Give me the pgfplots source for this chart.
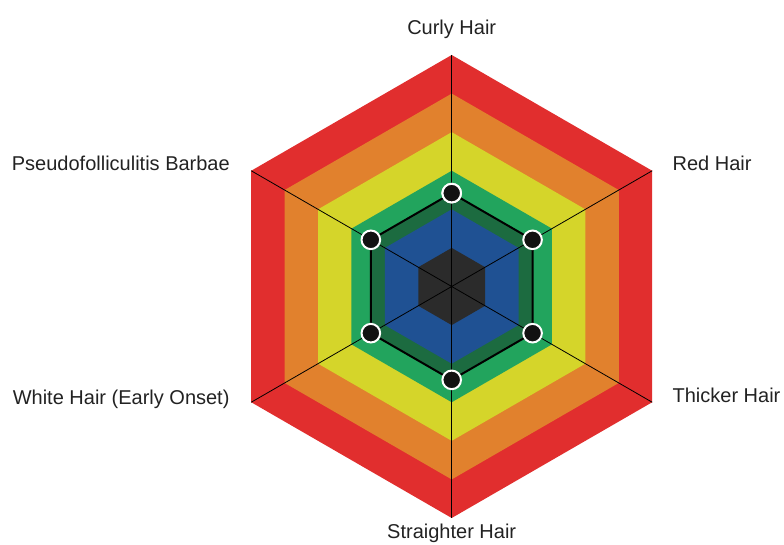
\documentclass[border=0pt]{standalone}
\usepackage{fontspec}
\setmainfont{Liberation Sans}
\usepackage{pgfplots}
\usepackage{pgfplotstable}
\pgfplotsset{compat=1.18}

\definecolor{band-red}{HTML}{E12E2E}
\definecolor{band-orange}{HTML}{E1812D}
\definecolor{band-yellow}{HTML}{D5D52A}
\definecolor{band-green}{HTML}{22A45D}
\definecolor{band-dkgreen}{HTML}{1C6B40}
\definecolor{band-blue}{HTML}{1F5193}
\definecolor{band-core}{HTML}{2B2B2B}
\definecolor{label-grey}{HTML}{222222}

% one score per trait, angle in degrees (first point repeated to close)
\pgfplotstableread{
angle value
90    2.42
30    2.42
-30   2.42
-90   2.42
-150  2.42
150   2.42
90    2.42
}\traitscores

\begin{document}
\begin{tikzpicture}
\path[use as bounding box] (-220.2pt,-26pt) rectangle (563.8pt,518pt);
\begin{axis}[
    x=38.583pt, y=38.583pt,
    xmin=-6, xmax=6, ymin=-6, ymax=6,
    hide axis, clip=false,
    at={(0pt,0pt)}, anchor=south west,
    data cs=polar,
]
    % background bands
    \addplot[fill=band-red, draw=none] coordinates {(90,6) (30,6) (-30,6) (-90,6) (-150,6) (150,6)} -- cycle;
    \addplot[fill=band-orange, draw=none] coordinates {(90,5) (30,5) (-30,5) (-90,5) (-150,5) (150,5)} -- cycle;
    \addplot[fill=band-yellow, draw=none] coordinates {(90,4) (30,4) (-30,4) (-90,4) (-150,4) (150,4)} -- cycle;
    \addplot[fill=band-green, draw=none] coordinates {(90,3) (30,3) (-30,3) (-90,3) (-150,3) (150,3)} -- cycle;
    \addplot[fill=band-dkgreen, draw=none] table[x=angle, y=value] {\traitscores} -- cycle;
    \addplot[fill=band-blue, draw=none] coordinates {(90,2) (30,2) (-30,2) (-90,2) (-150,2) (150,2)} -- cycle;
    \addplot[fill=band-core, draw=none] coordinates {(90,1) (30,1) (-30,1) (-90,1) (-150,1) (150,1)} -- cycle;

    % spokes
    \addplot[black, line width=0.8pt] coordinates {(90,6) (270,6)};
    \addplot[black, line width=0.8pt] coordinates {(30,6) (210,6)};
    \addplot[black, line width=0.8pt] coordinates {(-30,6) (150,6)};

    % scores
    \addplot[black, line width=2pt, mark=*, mark size=9.3pt,
        mark options={fill=black!93, draw=white, line width=2pt}]
        table[x=angle, y=value] {\traitscores};
\end{axis}

\begin{scope}[shift={(231.5pt,231.5pt)}, every node/.style={inner sep=0pt, text=label-grey, font=\fontsize{20}{24}\selectfont}]
    \node[anchor=base] at (0pt,251.5pt) {Curly Hair};
    \node[anchor=base west] at (220.7pt,115.8pt) {Red Hair};
    \node[anchor=base west] at (220.7pt,-116.2pt) {Thicker Hair};
    \node[anchor=base east] at (-221.7pt,115.8pt) {Pseudofolliculitis Barbae};
    \node[anchor=base east] at (-222pt,-118pt) {White Hair (Early Onset)};
    \node[anchor=base] at (0pt,-251.8pt) {Straighter Hair};
\end{scope}
\end{tikzpicture}
\end{document}
